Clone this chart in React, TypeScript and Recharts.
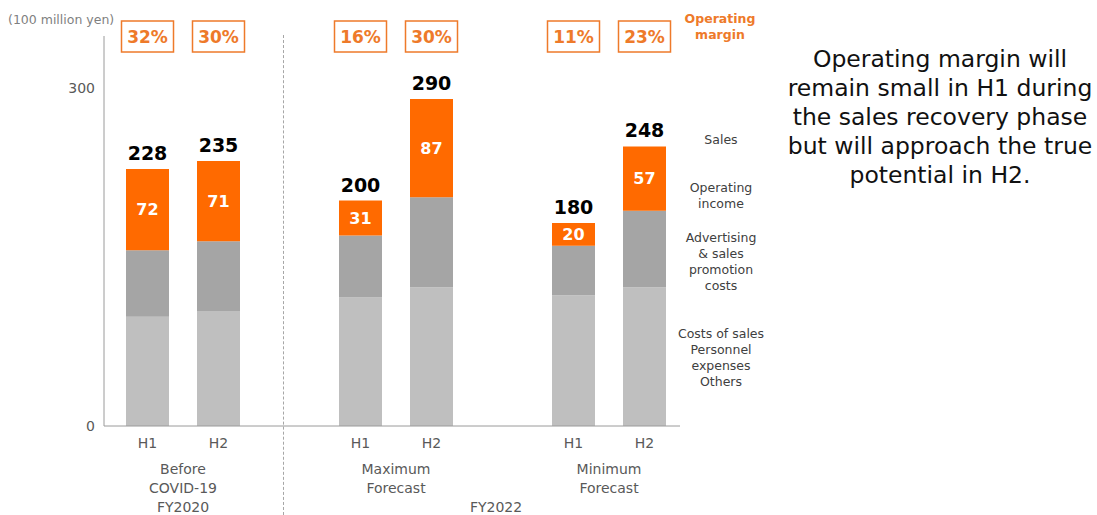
import React from "react";
import { BarChart, Bar, XAxis, YAxis, LabelList } from "recharts";

// one slot per bar, with empty slots between the three scenarios
const periodIds = ["b1", "b2", "gap1", "x1", "x2", "gap2", "n1", "n2"];
const halfLabels = ["H1", "H2", "", "H1", "H2", "", "H1", "H2"];
const sales = [228, 235, null, 200, 290, null, 180, 248];
const operatingIncome = [72, 71, null, 31, 87, null, 20, 57];
const adCosts = [59, 62, null, 55, 80, null, 44, 68];
const otherCosts = [97, 102, null, 114, 123, null, 116, 123];
const margins = ["32%", "30%", "", "16%", "30%", "", "11%", "23%"];
const yTicks = [0, 300];

const groupLabels = [
  { lines: ["Before", "COVID-19", "FY2020"], x: 183 },
  { lines: ["Maximum", "Forecast"], x: 396 },
  { lines: ["Minimum", "Forecast"], x: 609 },
  { lines: ["", "", "FY2022"], x: 496 },
];

const legendLabels = [
  { lines: ["Sales"], top: 132 },
  { lines: ["Operating", "income"], top: 180 },
  { lines: ["Advertising", "& sales", "promotion", "costs"], top: 230 },
  { lines: ["Costs of sales", "Personnel", "expenses", "Others"], top: 326 },
];

const data = periodIds.map((id, i) => ({
  id,
  half: halfLabels[i],
  sales: sales[i],
  operatingIncome: operatingIncome[i],
  adCosts: adCosts[i],
  otherCosts: otherCosts[i],
  margin: margins[i],
}));

const FONT = "'DejaVu Sans', Verdana, sans-serif";
const ORANGE = "#FF6A00";
const MARGIN_ORANGE = "#EE7A2A";

const halfById: Record<string, string> = {};
const marginById: Record<string, string> = {};
data.forEach((d) => {
  halfById[d.id] = d.half;
  marginById[d.id] = d.margin;
});

function MarginTick(props: any) {
  const { x, y, payload } = props;
  const m = marginById[payload.value];
  if (!m) return null;
  return (
    <g>
      <rect
        x={x - 26}
        y={y - 15}
        width={52}
        height={31}
        fill="#fff"
        stroke={MARGIN_ORANGE}
        strokeWidth={1.5}
      />
      <text
        x={x}
        y={y + 7}
        textAnchor="middle"
        fontFamily={FONT}
        fontWeight="bold"
        fontSize={17}
        fill={MARGIN_ORANGE}
      >
        {m}
      </text>
    </g>
  );
}

export default function App() {
  return (
    <div
      style={{
        position: "absolute",
        left: 0,
        top: 0,
        width: 1097,
        height: 515,
        background: "#fff",
        fontFamily: FONT,
        overflow: "hidden",
      }}
    >
      {/* dashed divider between FY2020 and FY2022 */}
      <div
        style={{
          position: "absolute",
          left: 283,
          top: 35,
          height: 480,
          borderLeft: "1px dashed #a6a6a6",
        }}
      />

      <BarChart
        width={700}
        height={515}
        data={data}
        margin={{ top: 6, right: 20, bottom: 59, left: 64 }}
        barCategoryGap={14}
        style={{ position: "absolute", left: 0, top: 0 }}
      >
        <XAxis
          xAxisId="main"
          dataKey="id"
          tickFormatter={(v: string) => halfById[v]}
          axisLine={{ stroke: "#9a9a9a" }}
          tickLine={false}
          tickMargin={6}
          height={30}
          padding={{ left: 8, right: 0 }}
          interval={0}
          tick={{ fill: "#595959", fontSize: 14, fontFamily: FONT }}
        />
        <XAxis
          xAxisId="top"
          orientation="top"
          dataKey="id"
          axisLine={false}
          tickLine={false}
          tickSize={0}
          tickMargin={0}
          height={30}
          padding={{ left: 8, right: 0 }}
          interval={0}
          tick={<MarginTick />}
        />
        <YAxis
          domain={[0, 346]}
          ticks={yTicks}
          axisLine={{ stroke: "#9a9a9a" }}
          tickLine={false}
          tickMargin={3}
          width={40}
          tick={{ fill: "#595959", fontSize: 14, fontFamily: FONT }}
        />
        <Bar
          xAxisId="main"
          dataKey="otherCosts"
          stackId="a"
          fill="#BFBFBF"
          isAnimationActive={false}
        />
        <Bar
          xAxisId="main"
          dataKey="adCosts"
          stackId="a"
          fill="#A5A5A5"
          isAnimationActive={false}
        />
        <Bar
          xAxisId="main"
          dataKey="operatingIncome"
          stackId="a"
          fill={ORANGE}
          isAnimationActive={false}
        >
          <LabelList
            dataKey="operatingIncome"
            position="center"
            fill="#fff"
            fontSize={16}
            fontWeight="bold"
            fontFamily={FONT}
          />
          <LabelList
            dataKey="sales"
            position="top"
            offset={9}
            fill="#000"
            fontSize={19}
            fontWeight="bold"
            fontFamily={FONT}
          />
        </Bar>
      </BarChart>

      <div
        style={{
          position: "absolute",
          left: 8,
          top: 12,
          fontSize: 12.5,
          color: "#7f7f7f",
          whiteSpace: "nowrap",
        }}
      >
        (100 million yen)
      </div>

      <div
        style={{
          position: "absolute",
          left: 680,
          top: 11,
          width: 80,
          textAlign: "center",
          fontSize: 12.5,
          lineHeight: "16px",
          fontWeight: "bold",
          color: MARGIN_ORANGE,
        }}
      >
        Operating
        <br />
        margin
      </div>

      {groupLabels.map((g, i) => (
        <div
          key={i}
          style={{
            position: "absolute",
            left: g.x - 60,
            top: 460,
            width: 120,
            textAlign: "center",
            fontSize: 14,
            lineHeight: "19px",
            color: "#595959",
          }}
        >
          {g.lines.map((l, j) => (
            <div key={j} style={{ height: 19 }}>
              {l}
            </div>
          ))}
        </div>
      ))}

      {legendLabels.map((g, i) => (
        <div
          key={i}
          style={{
            position: "absolute",
            left: 671,
            top: g.top,
            width: 100,
            textAlign: "center",
            fontSize: 12.5,
            lineHeight: "16px",
            color: "#404040",
          }}
        >
          {g.lines.map((l, j) => (
            <div key={j}>{l}</div>
          ))}
        </div>
      ))}

      <div
        style={{
          position: "absolute",
          left: 770,
          top: 45,
          width: 340,
          textAlign: "center",
          fontSize: 23.5,
          lineHeight: "29px",
          color: "#111",
        }}
      >
        Operating margin will
        <br />
        remain small in H1 during
        <br />
        the sales recovery phase
        <br />
        but will approach the true
        <br />
        potential in H2.
      </div>
    </div>
  );
}
